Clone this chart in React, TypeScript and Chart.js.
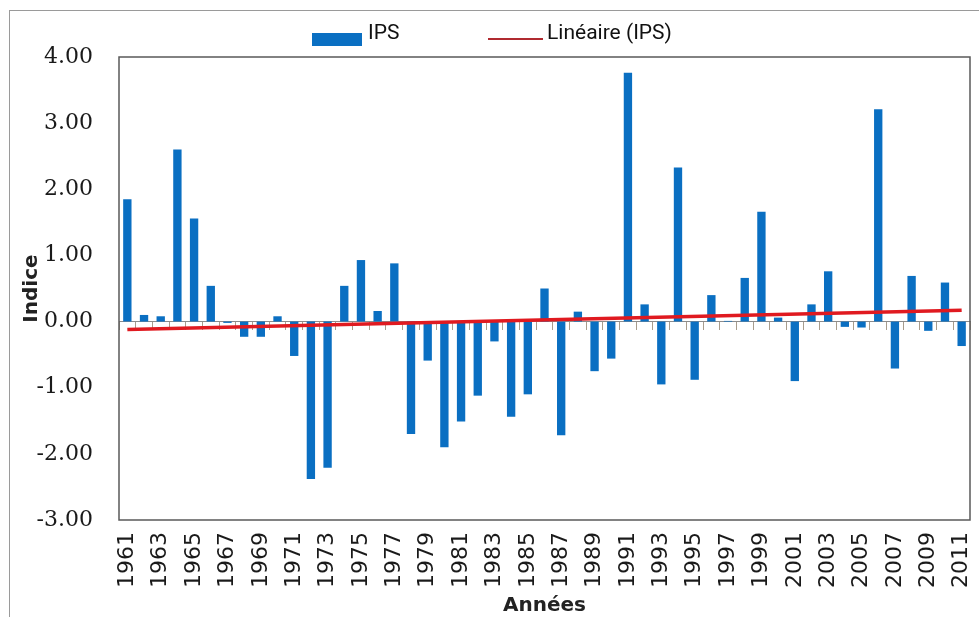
import React, { useEffect, useRef } from "react";
import { Chart, registerables } from "chart.js";

Chart.register(...registerables);

const years = [
  "1961", "1962", "1963", "1964", "1965", "1966", "1967", "1968", "1969", "1970",
  "1971", "1972", "1973", "1974", "1975", "1976", "1977", "1978", "1979", "1980",
  "1981", "1982", "1983", "1984", "1985", "1986", "1987", "1988", "1989", "1990",
  "1991", "1992", "1993", "1994", "1995", "1996", "1997", "1998", "1999", "2000",
  "2001", "2002", "2003", "2004", "2005", "2006", "2007", "2008", "2009", "2010",
  "2011",
];

const ipsValues = [
  1.85, 0.10, 0.08, 2.60, 1.56, 0.54, -0.02, -0.23, -0.23, 0.08,
  -0.52, -2.38, -2.21, 0.54, 0.93, 0.16, 0.88, -1.70, -0.59, -1.90,
  -1.51, -1.12, -0.30, -1.44, -1.10, 0.50, -1.72, 0.15, -0.75, -0.56,
  3.76, 0.26, -0.95, 2.33, -0.88, 0.40, 0.01, 0.66, 1.66, 0.06,
  -0.90, 0.26, 0.76, -0.08, -0.09, 3.21, -0.71, 0.69, -0.14, 0.59,
  -0.37,
];

// Linear trend line (Linéaire (IPS)) end values
const trendStart = -0.12;
const trendEnd = 0.17;

const yTicks = [-3, -2, -1, 0, 1, 2, 3, 4];

const seriesLabel = "IPS";
const trendLabel = "Linéaire (IPS)";
const xTitle = "Années";
const yTitle = "Indice";

const BAR_COLOR = "#0a6fc2";
const TREND_COLOR = "#e01a20";

const boxPlugin = {
  id: "plotBox",
  afterDatasetsDraw(chart: any) {
    const { ctx, chartArea } = chart;
    ctx.save();
    ctx.strokeStyle = "#595959";
    ctx.lineWidth = 1.5;
    ctx.strokeRect(chartArea.left, chartArea.top, chartArea.right - chartArea.left, chartArea.bottom - chartArea.top);
    ctx.restore();
  },
};

function App() {
  const canvasRef = useRef<HTMLCanvasElement | null>(null);

  useEffect(() => {
    if (!canvasRef.current) return;
    const last = years.length - 1;
    const trendData = years.map((_, i) => (i === 0 ? trendStart : i === last ? trendEnd : null));
    const chart = new Chart(canvasRef.current, {
      type: "bar",
      data: {
        labels: years,
        datasets: [
          {
            type: "line",
            label: trendLabel,
            data: trendData,
            borderColor: TREND_COLOR,
            borderWidth: 3.5,
            pointRadius: 0,
            spanGaps: true,
            fill: false,
            order: 0,
            xAxisID: "x",
          } as any,
          {
            type: "bar",
            label: seriesLabel,
            data: ipsValues,
            backgroundColor: BAR_COLOR,
            borderWidth: 0,
            barPercentage: 1,
            categoryPercentage: 0.5,
            order: 1,
            xAxisID: "x",
          },
        ],
      },
      options: {
        responsive: false,
        animation: false,
        layout: { padding: { top: 57, right: 9, left: 0, bottom: 0 } },
        plugins: {
          legend: { display: false },
          tooltip: { enabled: false },
        },
        scales: {
          x: {
            type: "category",
            position: "bottom",
            offset: true,
            grid: { display: false, drawTicks: false },
            border: { display: false },
            ticks: {
              autoSkip: false,
              minRotation: 90,
              maxRotation: 90,
              padding: 12,
              color: "#1a1a1a",
              font: { family: "'DejaVu Sans'", size: 22 },
              callback: (_v: any, i: number) => (i % 2 === 0 ? years[i] : ""),
            },
            title: {
              display: true,
              text: xTitle,
              color: "#222",
              font: { family: "'DejaVu Sans'", size: 20, weight: "bold", lineHeight: 1.1 },
              padding: { top: 0, bottom: 0 },
            },
            afterFit: (scale: any) => {
              scale.height = 97;
              scale.paddingLeft = 0;
              scale.paddingRight = 0;
            },
          },
          x2: {
            type: "category",
            axis: "x",
            position: { y: 0 } as any,
            offset: true,
            grid: {
              display: true,
              offset: true,
              drawOnChartArea: false,
              drawTicks: true,
              tickLength: 8,
              color: "#a89c8c",
              lineWidth: 1,
            },
            border: { display: true, color: "#8c8c8c", width: 1 },
            ticks: { display: false, autoSkip: false },
            afterFit: (scale: any) => {
              scale.paddingLeft = 0;
              scale.paddingRight = 0;
            },
          } as any,
          y: {
            type: "linear",
            min: -3,
            max: 4,
            afterBuildTicks: (scale: any) => {
              scale.ticks = yTicks.map((v) => ({ value: v }));
            },
            grid: { display: false, drawTicks: false },
            border: { display: false },
            ticks: {
              padding: 26,
              color: "#1a1a1a",
              font: { family: "'DejaVu Serif'", size: 22 },
              callback: (v: any) => Number(v).toFixed(2),
            },
            title: {
              display: true,
              text: yTitle,
              color: "#222",
              font: { family: "'DejaVu Sans'", size: 20, weight: "bold", lineHeight: 1.2 },
              padding: { top: 20, bottom: 0 },
            },
            afterFit: (scale: any) => {
              scale.width = 119;
            },
          },
        },
      } as any,
      plugins: [boxPlugin],
    });
    return () => chart.destroy();
  }, []);

  const legendFont: React.CSSProperties = {
    position: "absolute",
    fontFamily: "Roboto, 'Open Sans', sans-serif",
    fontSize: 21,
    lineHeight: "21px",
    color: "#111",
    whiteSpace: "nowrap",
  };

  return (
    <div style={{ position: "absolute", left: 0, top: 0, width: 979, height: 617, overflow: "hidden", background: "#fff" }}>
      <div
        style={{
          position: "absolute",
          left: 9,
          top: 10,
          width: 1000,
          height: 700,
          border: "1px solid #9a9a9a",
        }}
      />
      <canvas ref={canvasRef} width={979} height={617} style={{ position: "absolute", left: 0, top: 0 }} />
      <div style={{ position: "absolute", left: 312, top: 33, width: 50, height: 13, background: BAR_COLOR }} />
      <div style={{ ...legendFont, left: 368, top: 22 }}>{seriesLabel}</div>
      <div style={{ position: "absolute", left: 488, top: 38, width: 55, height: 2, background: "#b02a30" }} />
      <div style={{ ...legendFont, left: 547, top: 22 }}>{trendLabel}</div>
    </div>
  );
}

export default App;
